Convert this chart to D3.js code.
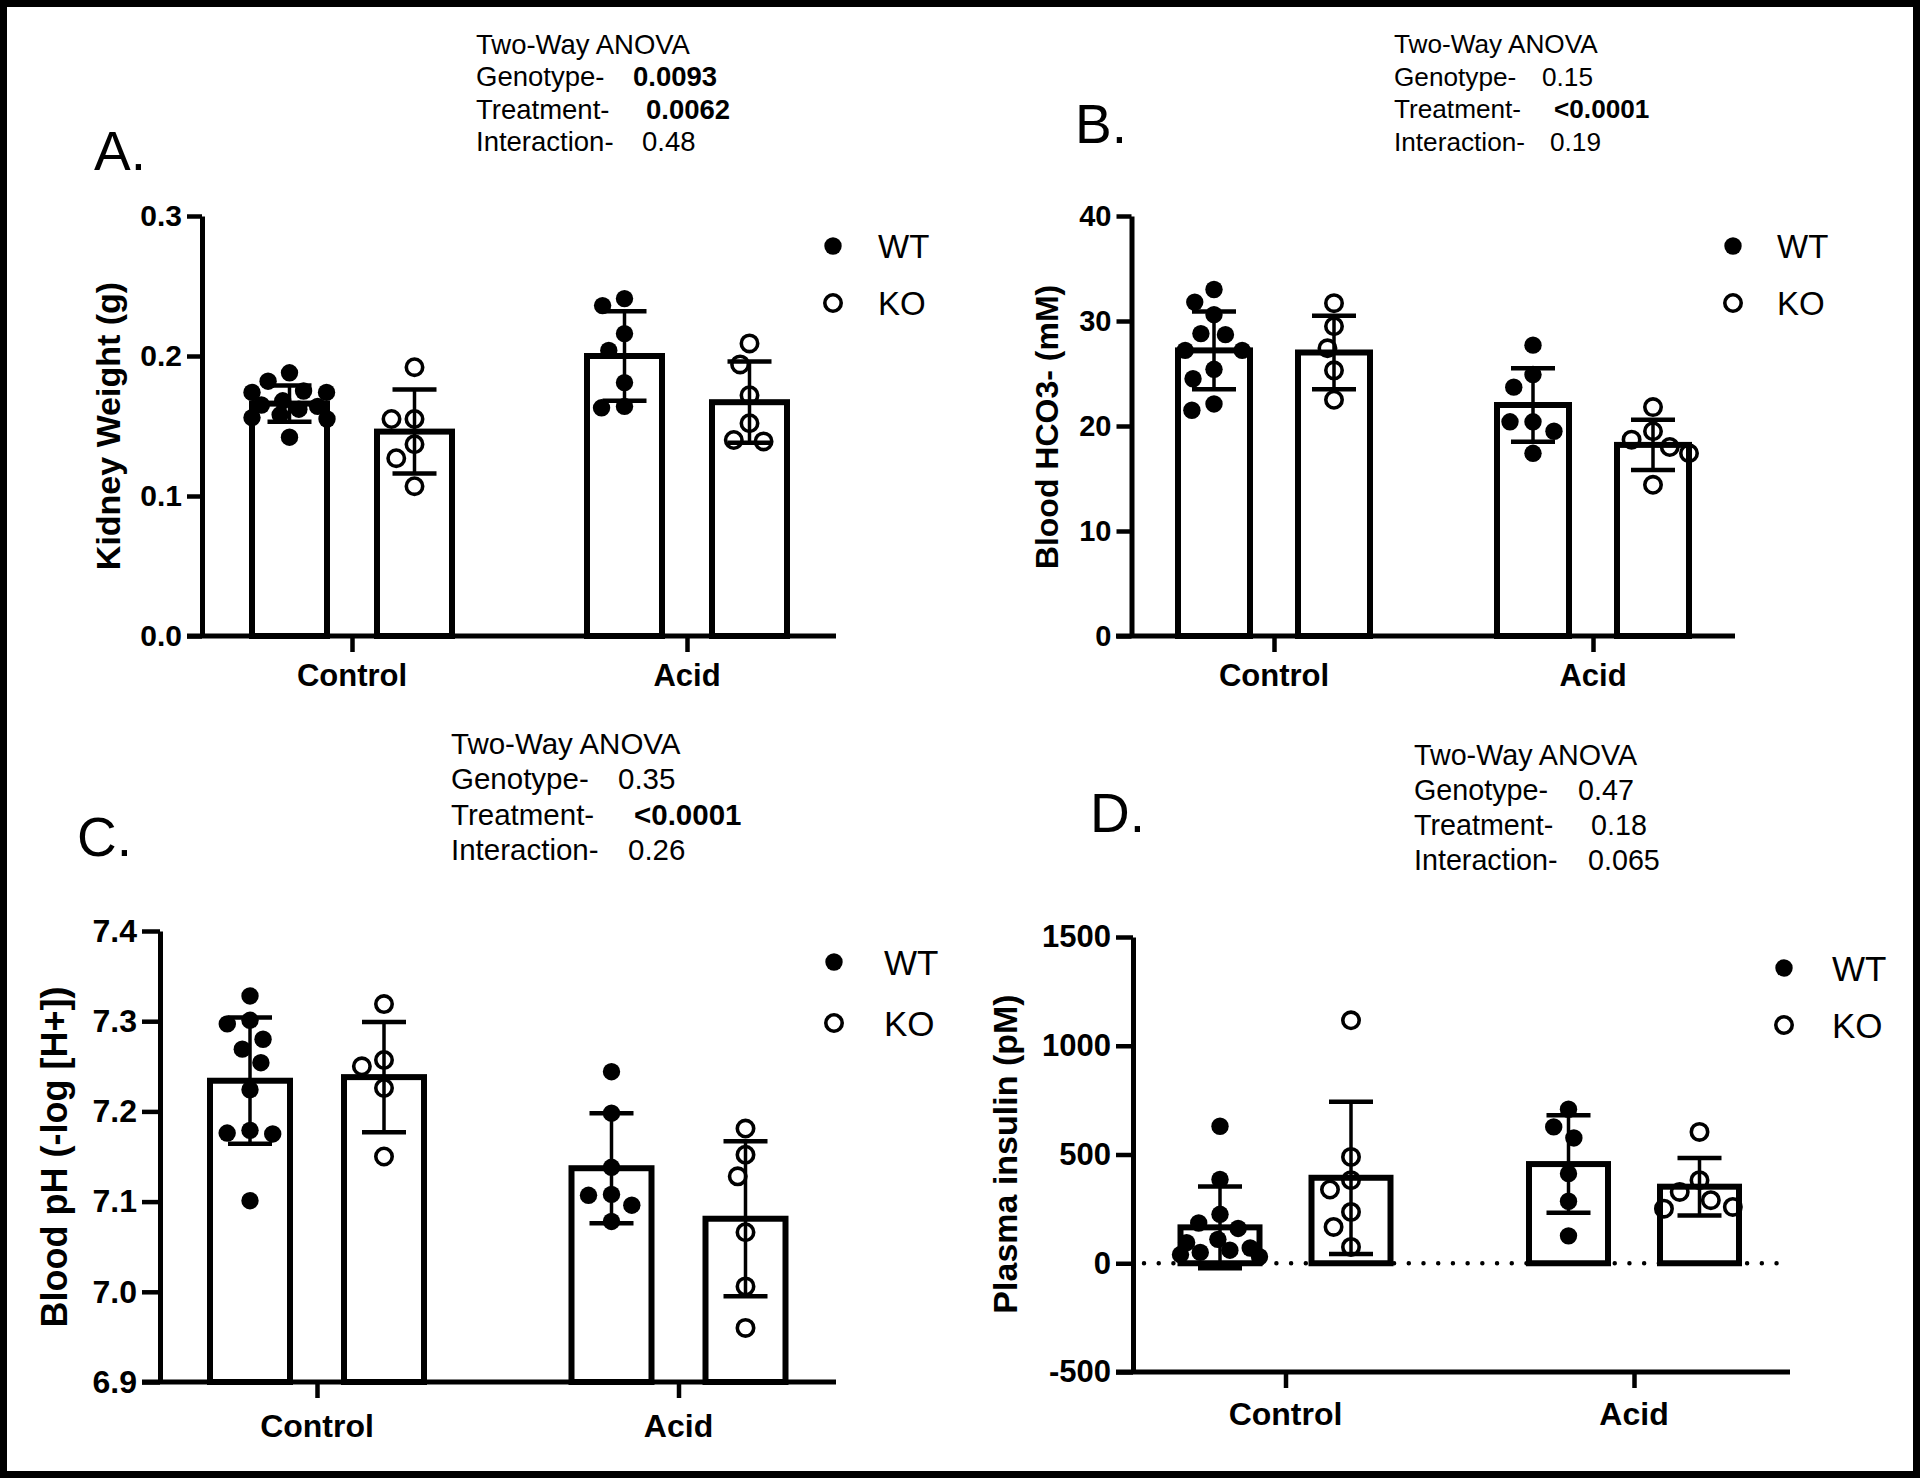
<!DOCTYPE html>
<html><head><meta charset="utf-8">
<script src="https://cdn.jsdelivr.net/npm/d3@7"></script>
<style>
body{margin:0;background:#fff;}
svg{display:block;background:#fff;}
text{font-family:"Liberation Sans", Arial, sans-serif; fill:#000;}
</style></head><body>
<svg id="chart" width="1920" height="1478"></svg>
<script>
// ---------------- DATA ----------------
const groups = ["Control", "Acid"];
const genotypes = ["WT", "KO"];
const legendLabels = ["WT", "KO"];
const anovaLabels = ["Two-Way ANOVA", "Genotype-", "Treatment-", "Interaction-"];
// order of series: Control-WT, Control-KO, Acid-WT, Acid-KO

// A. Kidney weight
const kidneyTicks = [0, 0.1, 0.2, 0.3];
const kidneyMean = [0.166, 0.146, 0.200, 0.167];
const kidneySD = [0.013, 0.030, 0.032, 0.029];
const kidneyPoints = [
  [0.188, 0.182, 0.175, 0.174, 0.174, 0.168, 0.165, 0.164, 0.162, 0.158, 0.156, 0.155, 0.142],
  [0.192, 0.155, 0.155, 0.137, 0.127, 0.107],
  [0.241, 0.236, 0.216, 0.204, 0.181, 0.164, 0.163],
  [0.209, 0.194, 0.172, 0.152, 0.139, 0.140]
];
const kidneyAnova = ["0.0093", "0.0062", "0.48"];
const kidneyAnovaBold = [true, true, false];

// B. Blood HCO3-
const hco3Ticks = [0, 10, 20, 30, 40];
const hco3Mean = [27.2, 27.0, 22.0, 18.2];
const hco3SD = [3.7, 3.5, 3.5, 2.4];
const hco3Points = [
  [33.0, 31.8, 30.6, 28.7, 28.8, 27.2, 27.2, 25.4, 24.5, 22.1, 21.5],
  [31.7, 29.5, 27.4, 25.3, 22.5],
  [27.7, 24.9, 23.7, 20.4, 20.4, 19.5, 17.4],
  [21.8, 19.5, 18.7, 18.0, 17.4, 14.4]
];
const hco3Anova = ["0.15", "<0.0001", "0.19"];
const hco3AnovaBold = [false, true, false];

// C. Blood pH
const phTicks = [6.9, 7.0, 7.1, 7.2, 7.3, 7.4];
const phMean = [7.234, 7.238, 7.137, 7.081];
const phSD = [0.070, 0.061, 0.061, 0.086];
const phPoints = [
  [7.328, 7.301, 7.280, 7.297, 7.269, 7.254, 7.224, 7.179, 7.175, 7.176, 7.101],
  [7.319, 7.250, 7.257, 7.226, 7.150],
  [7.244, 7.198, 7.138, 7.108, 7.107, 7.096, 7.078],
  [7.181, 7.152, 7.128, 7.066, 7.006, 6.960]
];
const phAnova = ["0.35", "<0.0001", "0.26"];
const phAnovaBold = [false, true, false];

// D. Plasma insulin
const insTicks = [-500, 0, 500, 1000, 1500];
const insMean = [165, 393, 456, 352];
const insSD = [188, 350, 224, 132];
const insPoints = [
  [630, 385, 225, 185, 160, 110, 95, 70, 60, 50, 40, 30],
  [1117, 489, 382, 339, 236, 167, 75],
  [708, 627, 576, 412, 285, 126],
  [604, 382, 328, 290, 251, 259]
];
const insAnova = ["0.47", "0.18", "0.065"];
const insAnovaBold = [false, false, false];

// ---------------- LAYOUT ----------------
const panels = [
  { letter: "A.", yLabel: "Kidney Weight (g)", domain: [0, 0.3], base: 0, ticks: kidneyTicks, fmt: d3.format(".1f"),
    mean: kidneyMean, sd: kidneySD, pts: kidneyPoints, anova: kidneyAnova, bold: kidneyAnovaBold,
    L: { yAxisX: 202, yTop: 216, yBot: 636, xLeft: 187, xRight: 836, gx: [352, 687], off: 62.5, barW: 75, tick: 15,
         tickFont: 30, catFont: 31, catY: 686, ylX: 108, ylY: 426, ylFont: 34,
         letX: 94, letY: 170, letFont: 55, anX: 476, anY: 54, anStep: 32.4, anFont: 27.5, anDx: [157, 170, 166],
         legX: 833, legY: 246, legStep: 57, legTextX: 878, legFont: 33 } },
  { letter: "B.", yLabel: "Blood HCO3- (mM)", domain: [0, 40], base: 0, ticks: hco3Ticks, fmt: d => String(d),
    mean: hco3Mean, sd: hco3SD, pts: hco3Points, anova: hco3Anova, bold: hco3AnovaBold,
    L: { yAxisX: 1131.5, yTop: 216, yBot: 636, xLeft: 1116, xRight: 1735, gx: [1274, 1593], off: 60, barW: 72, tick: 15,
         tickFont: 29, catFont: 31, catY: 686, ylX: 1046, ylY: 427, ylFont: 32,
         letX: 1075, letY: 143, letFont: 55, anX: 1394, anY: 53, anStep: 32.5, anFont: 26.2, anDx: [148, 160, 156],
         legX: 1733, legY: 246, legStep: 57, legTextX: 1777, legFont: 33 } },
  { letter: "C.", yLabel: "Blood pH (-log [H+])", domain: [6.9, 7.4], base: 6.9, ticks: phTicks, fmt: d3.format(".1f"),
    mean: phMean, sd: phSD, pts: phPoints, anova: phAnova, bold: phAnovaBold,
    L: { yAxisX: 160, yTop: 931, yBot: 1382, xLeft: 142, xRight: 836, gx: [317, 678.5], off: 67, barW: 80, tick: 18,
         tickFont: 32, catFont: 32, catY: 1437, ylX: 54, ylY: 1157, ylFont: 36,
         letX: 77, letY: 856, letFont: 55, anX: 451, anY: 753.6, anStep: 35.5, anFont: 29.5, anDx: [167, 183, 177],
         legX: 834, legY: 962, legStep: 61, legTextX: 884, legFont: 35 } },
  { letter: "D.", yLabel: "Plasma insulin (pM)", domain: [-500, 1500], base: 0, ticks: insTicks, fmt: d => String(d),
    mean: insMean, sd: insSD, pts: insPoints, anova: insAnova, bold: insAnovaBold, zeroLine: true,
    L: { yAxisX: 1133, yTop: 937, yBot: 1372, xLeft: 1116, xRight: 1790, gx: [1285.5, 1634], off: 65.5, barW: 79, tick: 17,
         tickFont: 31, catFont: 32, catY: 1425, ylX: 1005, ylY: 1154, ylFont: 34,
         letX: 1090, letY: 832, letFont: 55, anX: 1414, anY: 764.5, anStep: 35.2, anFont: 28.7, anDx: [164, 177, 174],
         legX: 1784, legY: 968, legStep: 57, legTextX: 1832, legFont: 35 } }
];

const svg = d3.select("#chart");
svg.append("rect").attr("x", 0).attr("y", 0).attr("width", 1920).attr("height", 1478).attr("fill", "#fff");

// beeswarm placement of points around bar centre
function swarm(values, y, minDist, maxOff) {
  const order = values.map((v, i) => i).sort((a, b) => values[b] - values[a]);
  const placed = [];
  const out = new Array(values.length).fill(0);
  order.forEach(i => {
    const py = y(values[i]);
    const cands = [0];
    placed.forEach(p => {
      const dy = Math.abs(p.y - py);
      if (dy < minDist) {
        const dx = Math.sqrt(minDist * minDist - dy * dy);
        cands.push(p.x - dx, p.x + dx);
      }
    });
    cands.sort((a, b) => Math.abs(a) - Math.abs(b));
    let best = cands.find(c => Math.abs(c) <= maxOff + 0.01 &&
      placed.every(p => (p.x - c) ** 2 + (p.y - py) ** 2 >= minDist * minDist - 0.5));
    if (best === undefined) {
      let bestD = -Infinity;
      const lim = d3.range(-maxOff, maxOff + 0.01, maxOff / 4);
      lim.forEach(c => {
        const dmin = d3.min(placed, p => Math.hypot(p.x - c, p.y - py));
        if (dmin > bestD) { bestD = dmin; best = c; }
      });
      if (best === undefined) best = 0;
    }
    placed.push({ x: best, y: py });
    out[i] = best;
  });
  return out;
}

panels.forEach(P => {
  const L = P.L;
  const g = svg.append("g");
  const y = d3.scaleLinear().domain(P.domain).range([L.yBot, L.yTop]);
  const x = d3.scalePoint().domain(groups).range(L.gx);
  const xi = d3.scalePoint().domain(genotypes).range([-L.off, L.off]);

  const series = [];
  groups.forEach((grp, gi) => genotypes.forEach((gt, ti) => {
    const k = gi * 2 + ti;
    series.push({ grp, gt, mean: P.mean[k], sd: P.sd[k], pts: P.pts[k], cx: x(grp) + xi(gt) });
  }));

  // zero reference line (dotted)
  if (P.zeroLine) {
    g.append("line").attr("x1", L.xLeft + 28).attr("x2", L.xRight - 12)
      .attr("y1", y(0)).attr("y2", y(0))
      .attr("stroke", "#000").attr("stroke-width", 4.5).attr("stroke-linecap", "round")
      .attr("stroke-dasharray", "0.01 14.7");
  }

  // bars
  g.selectAll("rect.bar").data(series).join("rect").attr("class", "bar")
    .attr("x", d => d.cx - L.barW / 2)
    .attr("width", L.barW)
    .attr("y", d => y(d.mean))
    .attr("height", d => y(P.base) - y(d.mean))
    .attr("fill", "none").attr("stroke", "#000").attr("stroke-width", 6);

  // error bars (mean ± SD)
  const capW = 44;
  series.forEach(d => {
    const eg = g.append("g").attr("stroke", "#000");
    eg.append("line").attr("x1", d.cx).attr("x2", d.cx)
      .attr("y1", y(d.mean + d.sd)).attr("y2", y(d.mean - d.sd)).attr("stroke-width", 3.5);
    [d.mean + d.sd, d.mean - d.sd].forEach(v => {
      eg.append("line").attr("x1", d.cx - capW / 2).attr("x2", d.cx + capW / 2)
        .attr("y1", y(v)).attr("y2", y(v)).attr("stroke-width", 4.5);
    });
  });

  // points
  series.forEach(d => {
    const offs = swarm(d.pts, y, 23, L.barW / 2);
    const pg = g.append("g");
    pg.selectAll("circle").data(d.pts).join("circle")
      .attr("cx", (v, i) => d.cx + offs[i])
      .attr("cy", v => y(v))
      .attr("r", d.gt === "WT" ? 8.7 : 8.2)
      .attr("fill", d.gt === "WT" ? "#000" : "none")
      .attr("stroke", "#000")
      .attr("stroke-width", d.gt === "WT" ? 0 : 3.6);
  });

  // y axis
  const ya = d3.axisLeft(y).tickValues(P.ticks).tickFormat(P.fmt).tickSize(L.tick).tickSizeOuter(0).tickPadding(5);
  const yg = g.append("g").attr("transform", `translate(${L.yAxisX},0)`).call(ya);
  yg.select(".domain").attr("stroke-width", 5).attr("stroke", "#000");
  yg.selectAll(".tick line").attr("stroke-width", 4.5).attr("stroke", "#000");
  yg.selectAll(".tick text").attr("font-size", L.tickFont).attr("font-weight", "bold")
    .attr("font-family", "'Liberation Sans', Arial, sans-serif").attr("fill", "#000");

  // x axis line at bottom of the y range
  g.append("line").attr("x1", L.xLeft).attr("x2", L.xRight).attr("y1", L.yBot).attr("y2", L.yBot)
    .attr("stroke", "#000").attr("stroke-width", 5);
  const xa = d3.axisBottom(x).tickSize(16).tickPadding(12).tickSizeOuter(0);
  const xg = g.append("g").attr("transform", `translate(0,${L.yBot})`).call(xa);
  xg.select(".domain").remove();
  xg.selectAll(".tick line").attr("stroke-width", 4.5).attr("stroke", "#000");
  xg.selectAll(".tick text").remove();
  g.selectAll("text.cat").data(groups).join("text").attr("class", "cat")
    .attr("x", d => x(d)).attr("y", L.catY).attr("text-anchor", "middle")
    .attr("font-size", L.catFont).attr("font-weight", "bold").text(d => d);

  // y label
  g.append("text").attr("transform", `translate(${L.ylX},${L.ylY}) rotate(-90)`)
    .attr("text-anchor", "middle").attr("dy", "0.36em")
    .attr("font-size", L.ylFont).attr("font-weight", "bold").text(P.yLabel);

  // panel letter
  g.append("text").attr("x", L.letX).attr("y", L.letY)
    .attr("font-family", "Lato, 'Open Sans', sans-serif").attr("font-size", L.letFont).text(P.letter);

  // ANOVA block
  anovaLabels.forEach((lab, i) => {
    g.append("text").attr("x", L.anX).attr("y", L.anY + i * L.anStep)
      .attr("font-size", L.anFont).text(lab);
    if (i > 0) {
      g.append("text").attr("x", L.anX + L.anDx[i - 1]).attr("y", L.anY + i * L.anStep)
        .attr("font-size", L.anFont).attr("font-weight", P.bold[i - 1] ? "bold" : "normal")
        .text(P.anova[i - 1]);
    }
  });

  // legend
  legendLabels.forEach((lab, i) => {
    const cy = L.legY + i * L.legStep;
    g.append("circle").attr("cx", L.legX).attr("cy", cy)
      .attr("r", i === 0 ? 8.7 : 8.2)
      .attr("fill", i === 0 ? "#000" : "none").attr("stroke", "#000")
      .attr("stroke-width", i === 0 ? 0 : 3.6);
    g.append("text").attr("x", L.legTextX).attr("y", cy).attr("dy", "0.36em")
      .attr("font-size", L.legFont).text(lab);
  });
});

// outer frame
svg.append("rect").attr("x", 3.5).attr("y", 3.5).attr("width", 1913).attr("height", 1471)
  .attr("fill", "none").attr("stroke", "#000").attr("stroke-width", 7);
</script>
</body></html>
